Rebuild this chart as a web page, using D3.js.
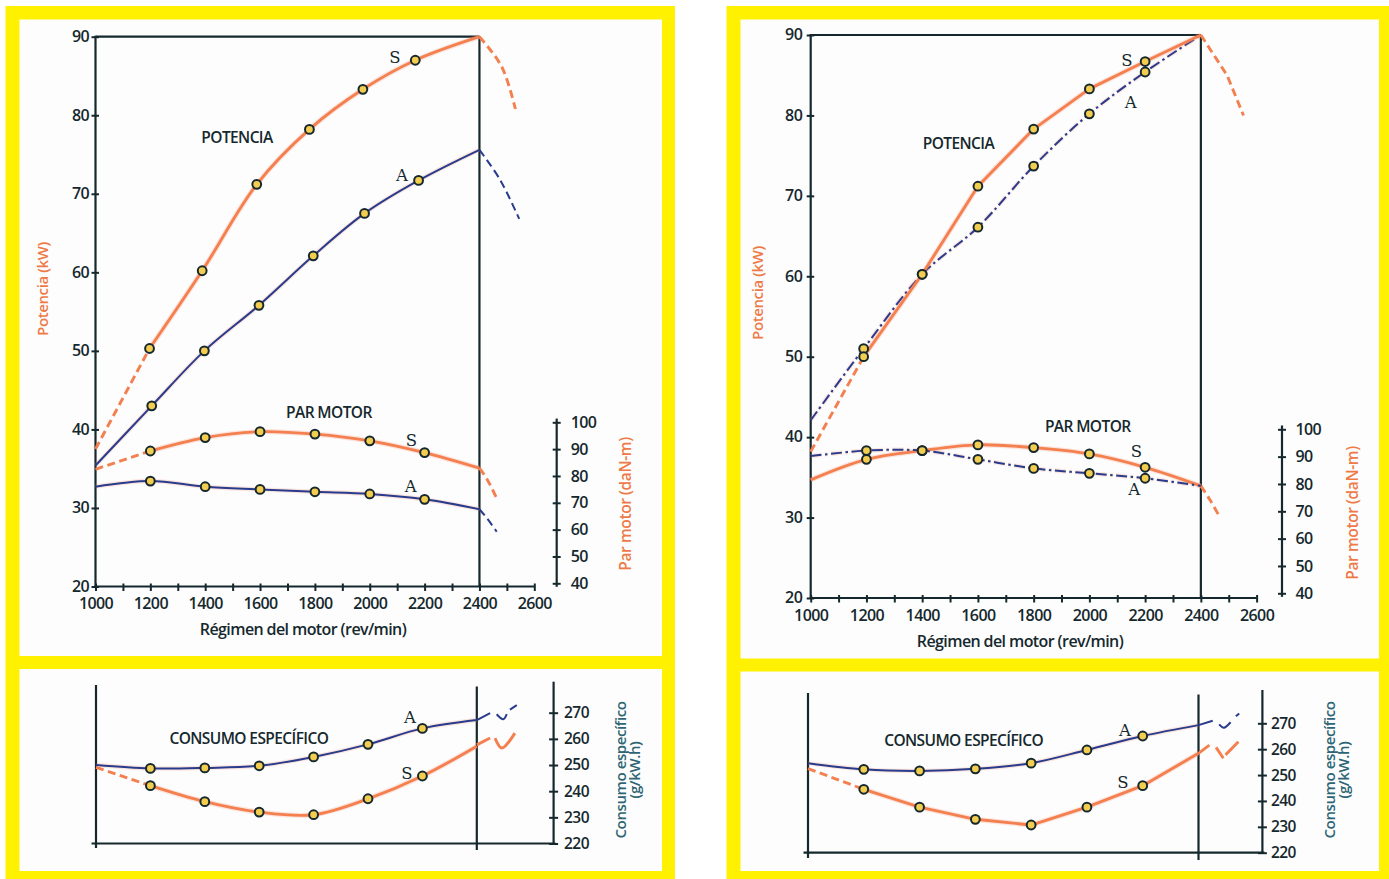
<!DOCTYPE html>
<html>
<head>
<meta charset="utf-8">
<script src="https://cdn.jsdelivr.net/npm/d3@7"></script>
<style>
  html, body { margin: 0; padding: 0; background: #fff; }
  svg { display: block; font-family: "Open Sans", sans-serif; font-weight: 600; }
</style>
</head>
<body>
<svg id="fig" width="1389" height="879"></svg>
<script>
// ---- Ticks
const rpmTicks = d3.range(1000, 2601, 100);
const kwTicks = d3.range(20, 91, 10);
const parTicks = d3.range(40, 101, 10);
const consumoTicks = d3.range(220, 271, 10);

// ---- Figura izquierda: [rpm, valor]
const izqPotenciaS = [[1000, 37.5], [1197, 50.3], [1389, 60.2], [1588, 71.2], [1780, 78.2], [1975, 83.3], [2166, 87.0], [2400, 90]];
const izqPotenciaSCola = [[2400, 90], [2481, 86.2], [2531, 80.8]];
const izqPotenciaA = [[1000, 35.4], [1205, 43.0], [1397, 50.0], [1596, 55.8], [1794, 62.1], [1981, 67.5], [2178, 71.7], [2400, 75.6]];
const izqPotenciaACola = [[2400, 75.6], [2475, 71.8], [2545, 66.8]];
const izqParS = [[1000, 82.5], [1200, 89.3], [1400, 94.3], [1600, 96.5], [1800, 95.6], [2000, 93.1], [2200, 88.7], [2400, 82.9]];
const izqParSCola = [[2400, 82.9], [2426, 79.1], [2463, 71.7]];
const izqParA = [[1000, 76.0], [1200, 78.1], [1400, 76.0], [1600, 75.0], [1800, 74.1], [2000, 73.3], [2200, 71.3], [2400, 67.6]];
const izqParACola = [[2400, 67.6], [2430, 63.9], [2463, 59.2]];
const izqConsumoA = [[1000, 250.0], [1200, 248.7], [1400, 248.9], [1600, 249.7], [1800, 253.1], [2000, 257.9], [2200, 264.0], [2400, 267.2]];
const izqConsumoACola = [[[2400, 267.2], [2449, 269.8]], [[2473, 269.4], [2497, 267.5], [2510, 269.5]], [[2522, 271.2], [2547, 272.9]]];
const izqConsumoS = [[1000, 249.1], [1200, 242.1], [1400, 236.0], [1600, 232.0], [1800, 231.0], [2000, 237.1], [2200, 245.8], [2400, 257.2]];
const izqConsumoSCola = [[[2400, 257.7], [2449, 260.3]], [[2467, 260.3], [2492, 256.5], [2540, 262.2]]];

// ---- Figura derecha
const derPotenciaS = [[1000, 38.2], [1190, 50.0], [1400, 60.25], [1600, 71.2], [1800, 78.3], [2000, 83.3], [2200, 86.7], [2400, 90]];
const derPotenciaSCola = [[2400, 90], [2494, 85.0], [2553, 80.0]];
const derPotenciaA = [[1000, 42.1], [1190, 51.0], [1400, 60.25], [1600, 66.1], [1800, 73.7], [2000, 80.2], [2200, 85.4], [2400, 90]];
const derParS = [[1000, 81.5], [1200, 89.0], [1400, 92.2], [1600, 94.3], [1800, 93.3], [2000, 91.0], [2200, 86.1], [2400, 79.3]];
const derParSCola = [[2400, 79.3], [2433, 74.1], [2464, 68.6]];
const derParA = [[1000, 90.2], [1200, 92.2], [1400, 92.2], [1600, 89.0], [1800, 85.7], [2000, 83.9], [2200, 82.1], [2400, 79.3]];
const derConsumoA = [[1000, 254.6], [1200, 252.2], [1400, 251.6], [1600, 252.4], [1800, 254.6], [2000, 259.7], [2200, 265.1], [2400, 269.3]];
const derConsumoACola = [[[2400, 269.3], [2451, 271.0]], [[2474, 269.6], [2491, 268.3], [2515, 270.4]], [[2534, 272.7], [2546, 273.8]]];
const derConsumoS = [[1000, 252.5], [1200, 244.5], [1400, 237.6], [1600, 232.9], [1800, 230.7], [2000, 237.6], [2200, 245.9], [2400, 258.4]];
const derConsumoSCola = [[[2400, 258.4], [2439, 261.6]], [[2463, 260.7], [2489, 256.5]], [[2497, 257.8], [2543, 262.9]]];

// ---- Rótulos [texto, rpm, valor]
const izqRotulosArriba = [['POTENCIA', 1516, 77.2], ['S', 2092, 87.4], ['A', 2117, 72.4], ['PAR MOTOR', 1851, 42.2], ['S', 2152, 38.6], ['A', 2149, 32.8]];
const izqRotulosAbajo = [['CONSUMO ESPECÍFICO', 1562, 260.2], ['A', 2154, 268.5], ['S', 2143, 247.1]];
const derRotulosArriba = [['POTENCIA', 1530, 76.5], ['S', 2135, 86.9], ['A', 2148, 81.7], ['PAR MOTOR', 1994, 41.3], ['S', 2169, 38.3], ['A', 2161, 33.5]];
const derRotulosAbajo = [['CONSUMO ESPECÍFICO', 1558, 263.2], ['A', 2136, 267.4], ['S', 2129, 247.4]];

// ---- Style
const YELLOW = '#fff100';
const PAPER = '#fdfdfd';
const ORANGE = '#f47f4f';
const BLUE = '#283b8c';
const INK = '#15282d';
const AXIS_ORANGE = '#ee7a48';
const TEAL = '#2d6574';
const DOT_FILL = '#f3cd4f';
const smooth = d3.curveCatmullRom.alpha(0.5);

const svg = d3.select('#fig');

// ---- Frames
function frame(x0, x1, top, bottom) {
    svg.append('rect').attr('x', x0).attr('y', 6).attr('width', x1 - x0).attr('height', 879 - 6).attr('fill', YELLOW);
    svg.append('rect').attr('x', x0 + 14).attr('y', 19.5).attr('width', x1 - x0 - 27).attr('height', top - 19.5).attr('fill', PAPER);
    svg.append('rect').attr('x', x0 + 14).attr('y', bottom[0]).attr('width', x1 - x0 - 27).attr('height', bottom[1] - bottom[0]).attr('fill', PAPER);
}
frame(5.5, 675, 656, [669, 871]);
frame(726.5, 1392, 658.5, [671.5, 871]);

// ---- Series
function drawSeries(g, x, y, s) {
    const line = d3.line().x(d => x(d[0])).y(d => y(d[1])).curve(s.curve || smooth);
    const width = s.color === ORANGE ? 2.9 : 2;
    const dash = s.dashdot ? '11 3.5 2.5 3.5' : null;
    const halo = (d) => g.append('path').attr('d', d).attr('fill', 'none')
        .attr('stroke', 'rgba(245,140,110,0.22)').attr('stroke-width', width + 2.4)
        .attr('stroke-dasharray', dash);
    const stroke = (d, da) => g.append('path').attr('d', d).attr('fill', 'none')
        .attr('stroke', s.color).attr('stroke-width', width)
        .attr('stroke-linecap', 'butt').attr('stroke-linejoin', 'round')
        .attr('stroke-dasharray', da);

    if (s.dashStart) {
        const a = line(s.data.slice(0, 2)), b = line(s.data.slice(1));
        halo(b); stroke(a, '8 4.5'); stroke(b, dash);
    } else {
        const d = line(s.data);
        halo(d); stroke(d, dash);
    }
    if (s.tail) stroke(line(s.tail), '8 4.5');
    if (s.pieces) s.pieces.forEach(p => stroke(d3.line().x(d => x(d[0])).y(d => y(d[1])).curve(smooth)(p), null));
}

function drawDots(g, x, y, list) {
    g.selectAll(null).data(list).join('circle')
        .attr('cx', d => x(d[0])).attr('cy', d => y(d[1])).attr('r', 4.4)
        .attr('fill', DOT_FILL).attr('stroke', INK).attr('stroke-width', 2);
}

function styleAxis(g, size) {
    g.attr('font-family', '"Open Sans", sans-serif').attr('font-size', size);
    g.select('.domain').remove();
    g.selectAll('.tick line').attr('stroke', INK).attr('stroke-width', 2);
    g.selectAll('.tick text').attr('fill', INK).style('letter-spacing', '-0.6px');
}

function labels(g, x, y, list) {
    g.selectAll(null).data(list).join('text')
        .attr('x', d => x(d[1])).attr('y', d => y(d[2])).attr('dy', '0.36em')
        .attr('text-anchor', 'middle').attr('fill', INK)
        .attr('font-size', d => d[0].length > 1 ? 15.5 : 16.5)
        .attr('font-family', d => d[0].length > 1 ? '"Open Sans", sans-serif' : '"DejaVu Serif", serif')
        .attr('font-weight', d => d[0].length > 1 ? 600 : 400)
        .style('letter-spacing', d => d[0].length > 1 ? '-0.6px' : null)
        .text(d => d[0]);
}

function vText(g, txt, cx, cy, color, size) {
    g.append('text').attr('transform', `translate(${cx},${cy}) rotate(-90)`)
        .attr('dy', '0.36em').attr('text-anchor', 'middle').style('letter-spacing', '-0.4px')
        .attr('fill', color).attr('font-size', size).text(txt);
}

function hLine(g, x0, x1, yv) {
    g.append('line').attr('x1', x0).attr('x2', x1).attr('y1', yv).attr('y2', yv)
        .attr('stroke', INK).attr('stroke-width', 2.2);
}
function vLine(g, xv, y0, y1) {
    g.append('line').attr('x1', xv).attr('x2', xv).attr('y1', y0).attr('y2', y1)
        .attr('stroke', INK).attr('stroke-width', 2.2);
}

// ---- Upper charts (potencia + par motor)
function drawTop(p) {
    const { x, y, y2 } = p;
    const g = svg.append('g');

    // axes
    const ax = g.append('g').attr('transform', `translate(0,${y(20)})`)
        .call(d3.axisBottom(x).tickValues(rpmTicks).tickSize(4.5).tickPadding(7)
            .tickFormat(d => d % 200 === 0 ? d : ''));
    styleAxis(ax, 16);
    ax.selectAll('.tick line').attr('y1', -3);

    const ay = g.append('g').attr('transform', `translate(${x(1000)},0)`)
        .call(d3.axisLeft(y).tickValues(kwTicks).tickSize(4).tickPadding(p.leftPad));
    styleAxis(ay, 16);
    ay.selectAll('.tick line').attr('x1', 3.5);
    ay.selectAll('.tick text').attr('dy', '0.3em');

    const ar = g.append('g').attr('transform', `translate(${p.y2x},0)`)
        .call(d3.axisRight(y2).tickValues(parTicks).tickSize(4).tickPadding(p.rightPad));
    styleAxis(ar, 16);
    ar.selectAll('.tick line').attr('x1', -4);

    vLine(g, x(1000), y(20) + 1, y(90) - 1);
    hLine(g, x(1000) - 1, x(2600), y(20));
    hLine(g, x(1000), x(2400), y(90));
    vLine(g, x(2400), y(90), y(20));
    vLine(g, p.y2x, y2(38.7), y2(101.4));

    // titles
    vText(g, 'Potencia (kW)', p.kwTitle[0], p.kwTitle[1], AXIS_ORANGE, 15);
    vText(g, 'Par motor (daN-m)', p.parTitle[0], p.parTitle[1], AXIS_ORANGE, 15.5);
    g.append('text').attr('x', p.xTitle[0]).attr('y', p.xTitle[1]).attr('dy', '0.36em')
        .attr('text-anchor', 'middle').attr('fill', INK).attr('font-size', 16)
        .style('letter-spacing', '-0.6px').text('Régimen del motor (rev/min)');

    // marks
    p.series.forEach(s => drawSeries(g, x, s.axis === 'par' ? y2 : y, s));
    p.series.forEach(s => drawDots(g, x, s.axis === 'par' ? y2 : y, s.data.slice(1, -1)));
    labels(g, x, y, p.rotulos);
}

// ---- Lower charts (consumo especifico)
function drawBottom(p) {
    const { x, y3 } = p;
    const g = svg.append('g');

    const ar = g.append('g').attr('transform', `translate(${p.y3x},0)`)
        .call(d3.axisRight(y3).tickValues(consumoTicks).tickSize(4.5).tickPadding(p.rightPad));
    styleAxis(ar, 15.5);
    ar.selectAll('.tick line').attr('x1', -4.5);

    vLine(g, x(1000), p.frameTop, p.frameBottom);
    vLine(g, x(2400), p.frameTop + 1.5, p.frameBottom + 2);
    hLine(g, x(1000) - 4.5, p.y3x + 2, y3(220));
    vLine(g, p.y3x, p.axisTop, y3(220));

    vText(g, 'Consumo específico', p.title[0], p.title[2], TEAL, 15);
    vText(g, '(g/kW.h)', p.title[1], p.title[2], TEAL, 15);

    p.series.forEach(s => drawSeries(g, x, y3, s));
    p.series.forEach(s => drawDots(g, x, y3, s.data.slice(1, -1)));
    labels(g, x, y3, p.rotulos);
}

drawTop({
    x: d3.scaleLinear([1000, 2600], [95.5, 534.3]),
    y: d3.scaleLinear([20, 90], [586.5, 36.7]),
    y2: d3.scaleLinear([40, 100], [583.3, 422.3]),
    y2x: 556.7, leftPad: 2.5, rightPad: 10,
    kwTitle: [43, 289], parTitle: [625, 504], xTitle: [303, 629],
    rotulos: izqRotulosArriba,
    series: [
        { data: izqPotenciaS, tail: izqPotenciaSCola, color: ORANGE, dashStart: true },
        { data: izqPotenciaA, tail: izqPotenciaACola, color: BLUE },
        { data: izqParS, tail: izqParSCola, color: ORANGE, dashStart: true, axis: 'par' },
        { data: izqParA, tail: izqParACola, color: BLUE, axis: 'par' }
    ]
});

drawTop({
    x: d3.scaleLinear([1000, 2600], [810.7, 1256.6]),
    y: d3.scaleLinear([20, 90], [598, 35]),
    y2: d3.scaleLinear([40, 100], [593.3, 429.3]),
    y2x: 1282, leftPad: 4.5, rightPad: 9.5,
    kwTitle: [758, 293], parTitle: [1352, 513], xTitle: [1020, 641.7],
    rotulos: derRotulosArriba,
    series: [
        { data: derPotenciaA, color: BLUE, dashdot: true },
        { data: derPotenciaS, tail: derPotenciaSCola, color: ORANGE, dashStart: true, curve: d3.curveLinear },
        { data: derParS, tail: derParSCola, color: ORANGE, axis: 'par' },
        { data: derParA, color: BLUE, dashdot: true, axis: 'par' }
    ]
});

drawBottom({
    x: d3.scaleLinear([1000, 2400], [96, 476.8]),
    y3: d3.scaleLinear([220, 270], [843.5, 712.7]),
    y3x: 553.6, rightPad: 6, axisTop: 681.7, frameTop: 685, frameBottom: 848,
    title: [621, 635, 770],
    rotulos: izqRotulosAbajo,
    series: [
        { data: izqConsumoA, pieces: izqConsumoACola, color: BLUE },
        { data: izqConsumoS, pieces: izqConsumoSCola, color: ORANGE, dashStart: true }
    ]
});

drawBottom({
    x: d3.scaleLinear([1000, 2400], [808, 1198.5]),
    y3: d3.scaleLinear([220, 270], [852.7, 723.3]),
    y3x: 1262.4, rightPad: 4, axisTop: 690, frameTop: 693, frameBottom: 858,
    title: [1330, 1344, 770],
    rotulos: derRotulosAbajo,
    series: [
        { data: derConsumoA, pieces: derConsumoACola, color: BLUE },
        { data: derConsumoS, pieces: derConsumoSCola, color: ORANGE, dashStart: true, curve: d3.curveLinear }
    ]
});
</script>
</body>
</html>
